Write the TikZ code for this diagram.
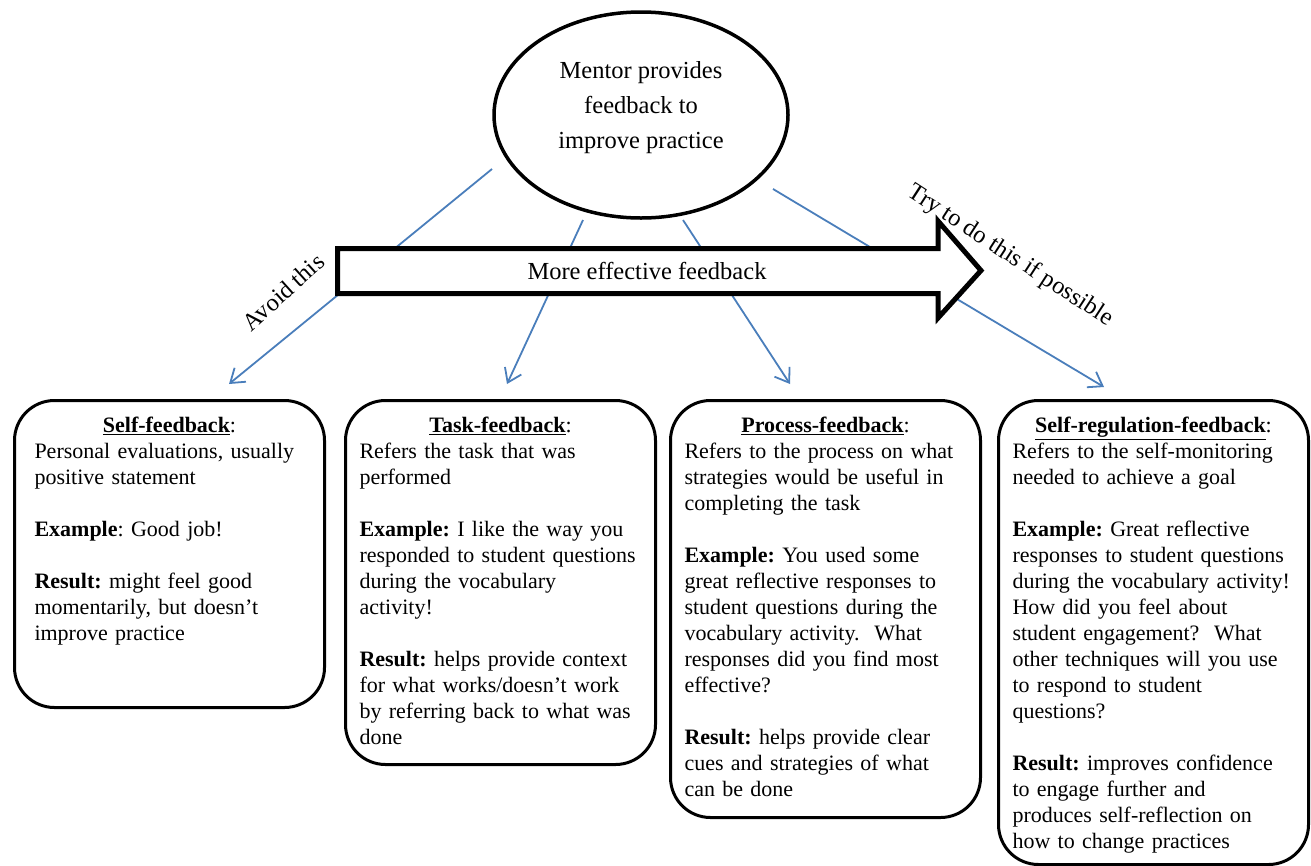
\documentclass[tikz,border=0pt]{standalone}
\usepackage{fontspec}
\setmainfont{Liberation Serif}
\usetikzlibrary{arrows.meta,shapes.geometric}
\definecolor{fbblue}{HTML}{4A7EBB}
\tikzset{
  fbbox/.style={draw,line width=3pt,rounded corners=40pt,anchor=north west,
    text width=282pt,inner xsep=14pt,inner ysep=10pt,text height=22pt,
    align=left,font=\fontsize{22}{26}\selectfont\frenchspacing},
  fbline/.style={draw=fbblue,line width=1.8pt,-{Straight Barb[length=13pt,width=18pt]}},
  biglabel/.style={font=\fontsize{24.5}{35}\selectfont}
}
\newcommand{\fbtitle}[1]{{\centering\underline{\textbf{#1}}:\par}}

\begin{document}
\begin{tikzpicture}[x=1pt,y=-1pt]
    \useasboundingbox (0,0) rectangle (1311,865);
    \node[ellipse,draw,line width=3.5pt,minimum width=294pt,minimum height=206pt,inner sep=0pt] (mentor) at (641,115) {};
    \node[biglabel,align=center] (mentortext) at (641,108) {Mentor provides\\feedback to\\improve practice};

    \node[fbbox,text depth=265pt,inner xsep=20pt,text width=270pt] (self) at (13,399) {\fbtitle{Self-feedback}
        Personal evaluations, usually\\ positive statement\\[26pt]
        \textbf{Example}: Good job!\\[26pt]
        \textbf{Result:} might feel good\\ momentarily, but doesn’t\\ improve practice};
    \node[fbbox,text depth=322pt] (task)    at (344,399) {\fbtitle{Task-feedback}
        Refers the task that was\\ performed\\[26pt]
        \textbf{Example:} I like the way you\\ responded to student questions\\ during the vocabulary\\ activity!\\[26pt]
        \textbf{Result:} helps provide context\\ for what works/doesn’t work\\ by referring back to what was\\ done};
    \node[fbbox,text depth=375pt] (process) at (669,399) {\fbtitle{Process-feedback}
        Refers to the process on what\\ strategies would be useful in\\ completing the task\\[26pt]
        \textbf{Example:} You used some\\ great reflective responses to\\ student questions during the\\ vocabulary activity.\ \ What\\ responses did you find most\\ effective?\\[26pt]
        \textbf{Result:} helps provide clear\\ cues and strategies of what\\ can be done};
    \node[fbbox,text depth=422pt] (selfreg) at (997,399) {\fbtitle{Self-regulation-feedback}
        Refers to the self-monitoring\\ needed to achieve a goal\\[26pt]
        \textbf{Example:} Great reflective\\ responses to student questions\\ during the vocabulary activity!\\ How did you feel about\\ student engagement?\ \ What\\ other techniques will you use\\ to respond to student\\ questions?\\[26pt]
        \textbf{Result:} improves confidence\\ to engage further and\\ produces self-reflection on\\ how to change practices};

    % connectors from the mentor to the four kinds of feedback
    \coordinate (from1) at (492,169);
    \coordinate (from2) at (583,220);
    \coordinate (from3) at (683,220);
    \coordinate (from4) at (773,189);
    \coordinate (to1) at (229,384);
    \coordinate (to2) at (507,384);
    \coordinate (to3) at (790,384);
    \coordinate (to4) at (1104,387);
    \path (from1) edge[fbline] (to1)
          (from2) edge[fbline] (to2)
          (from3) edge[fbline] (to3)
          (from4) edge[fbline] (to4);

    % the big arrow lies over the connectors
    \draw[line width=5pt,fill=white,miter limit=20] (337.5,248.5) -- (938,248.5) -- (938,221) -- (981,270.5)
        -- (938,318) -- (938,293.5) -- (337.5,293.5) -- cycle;
    \node[biglabel] (effective) at (647,271) {More effective feedback};
    \node[biglabel,rotate=42]  (avoid) at (283,292)  {Avoid this};
    \node[biglabel,rotate=-33] (tryto) at (1010,256) {Try to do this if possible};
\end{tikzpicture}
\end{document}
